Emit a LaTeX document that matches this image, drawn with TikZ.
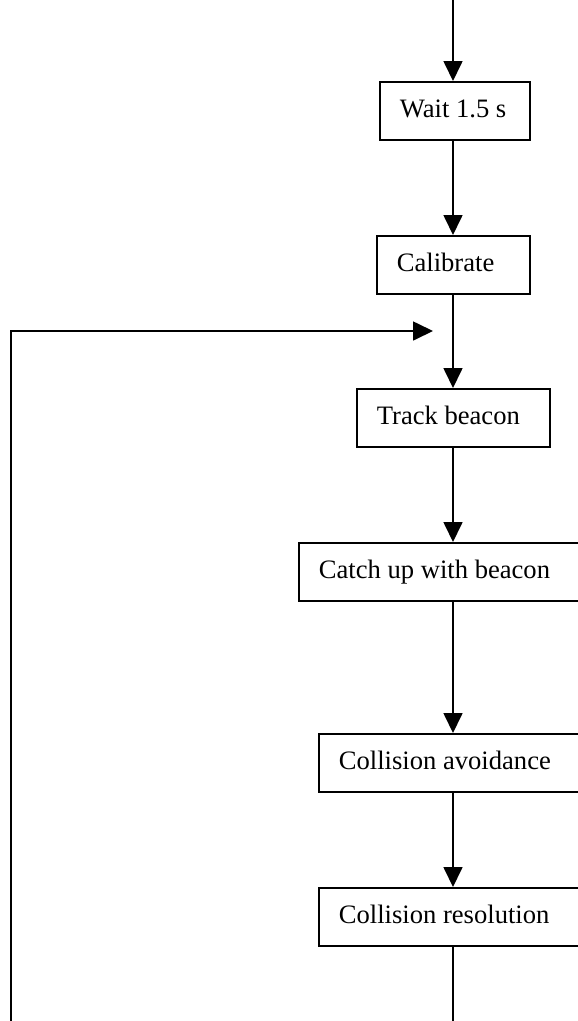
\documentclass[tikz,border=0pt]{standalone}
\usepackage{fontspec}
\setmainfont{Liberation Serif}
\usetikzlibrary{arrows.meta}
\newcommand{\boxtext}[2]{\makebox[#1][l]{#2}}
\begin{document}
\begin{tikzpicture}[x=1pt,y=-1pt,
  stepbox/.style={draw, line width=1.7pt, anchor=north west, inner xsep=20pt, inner ysep=0pt,
    minimum height=58pt, font=\fontsize{26.6}{32}\selectfont,
    text height=18.6pt, text depth=5.8pt},
  conn/.style={line width=1.7pt},
  arr/.style={conn, -{Triangle[length=20pt,width=19pt]}}]
\useasboundingbox (0,0) rectangle (578,1021);
\clip (0,0) rectangle (578,1021);
\coordinate (cx) at (453,0);
\coordinate (top) at (453,-5);
\coordinate (bot) at (453,1030);
\coordinate (fbs) at (11,1030);
\coordinate (fbe) at (433,331);

\node[stepbox] (wait) at (379,81) {\boxtext{110pt}{Wait 1.5 s}};
\node[stepbox] (cal) at (376,235) {\boxtext{113pt}{Calibrate}};
\node[stepbox] (track) at (356,388) {\boxtext{153pt}{Track beacon}};
\node[stepbox] (catch) at (298,542) {\boxtext{290pt}{Catch up with beacon}};
\node[stepbox] (avoid) at (318,733) {\boxtext{270pt}{Collision avoidance}};
\node[stepbox] (resol) at (318,887) {\boxtext{270pt}{Collision resolution}};

\draw[arr] (top) -- (wait.north -| cx);
\draw[arr] (wait.south -| cx) -- (cal.north -| cx);
\draw[arr] (cal.south -| cx) -- (track.north -| cx);
\draw[arr] (track.south -| cx) -- (catch.north -| cx);
\draw[arr] (catch.south -| cx) -- (avoid.north -| cx);
\draw[arr] (avoid.south -| cx) -- (resol.north -| cx);
\draw[conn] (resol.south -| cx) -- (bot);
\draw[arr] (fbs) |- (fbe);
\end{tikzpicture}
\end{document}
